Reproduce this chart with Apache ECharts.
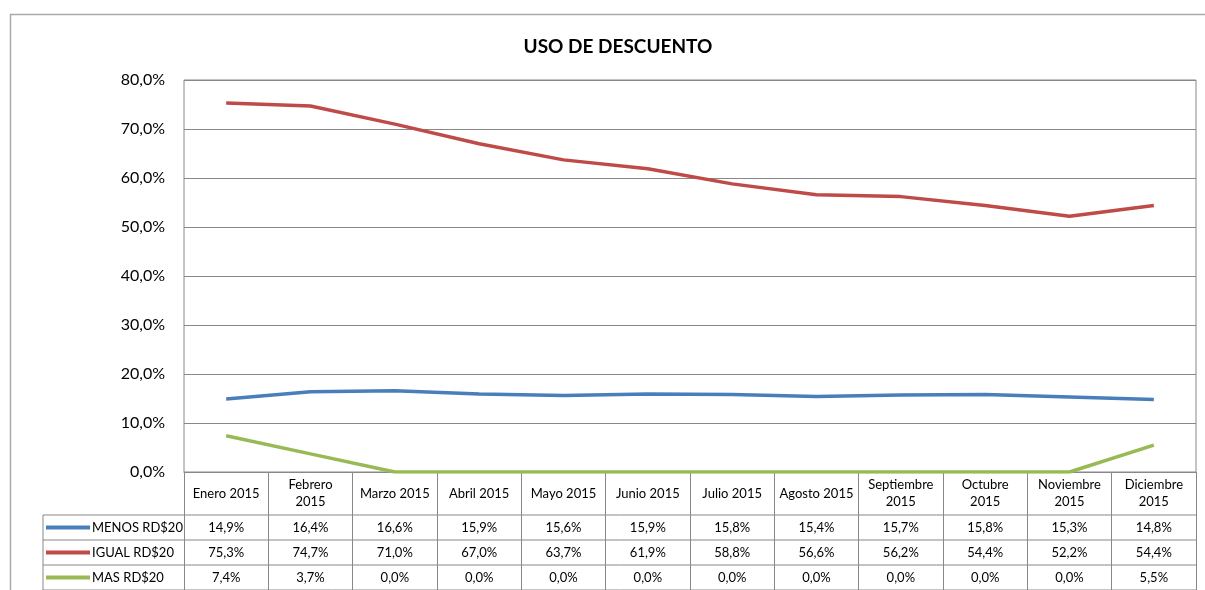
<!DOCTYPE html>
<html>
<head>
<meta charset="utf-8">
<script src="https://cdn.jsdelivr.net/npm/echarts@6/dist/echarts.min.js"></script>
<style>
  html, body { margin: 0; padding: 0; background: #fff; }
  #main { width: 1205px; height: 590px; }
</style>
</head>
<body>
<div id="main"></div>
<script>
const chart = echarts.init(document.querySelector('#main'))

const MONTHS = [
  'Enero 2015', 'Febrero\n2015', 'Marzo 2015', 'Abril 2015', 'Mayo 2015', 'Junio 2015',
  'Julio 2015', 'Agosto 2015', 'Septiembre\n2015', 'Octubre\n2015', 'Noviembre\n2015', 'Diciembre\n2015'
]
const MENOS = [14.9, 16.4, 16.6, 15.9, 15.6, 15.9, 15.8, 15.4, 15.7, 15.8, 15.3, 14.8]
const IGUAL = [75.3, 74.7, 71.0, 67.0, 63.7, 61.9, 58.8, 56.6, 56.2, 54.4, 52.2, 54.4]
const MAS = [7.4, 3.7, 0.0, 0.0, 0.0, 0.0, 0.0, 0.0, 0.0, 0.0, 0.0, 5.5]

const NAMES = ['MENOS RD$20', 'IGUAL RD$20', 'MAS RD$20']
const COLORS = ['#4a7ebb', '#be4b48', '#98b954']
const ROWS = [MENOS, IGUAL, MAS]

const FONT = 'Lato, "Open Sans", sans-serif'
const GRID_LEFT = 184
const GRID_RIGHT = 1196
const GRID_TOP = 80
const GRID_BOTTOM = 472
const TABLE_LEFT = 43
const ROW_H = 25
const HEADER_H = 43

function pct (v) {
  return v.toFixed(1).replace('.', ',') + '%'
}

// one hidden category axis per table row, used only to place the cell texts
let rowAxes = ROWS.map((row, i) => ({
  type: 'category',
  gridIndex: 0,
  position: 'bottom',
  data: row.map(pct),
  axisLine: { show: false },
  axisTick: { show: false },
  axisLabel: {
    interval: 0,
    margin: HEADER_H + ROW_H * i + ROW_H / 2,
    verticalAlign: 'middle',
    fontFamily: FONT,
    fontSize: 13,
    color: '#000'
  }
}))

// one legend per table row so each key sits in its own cell
let legends = NAMES.map((name, i) => ({
  orient: 'horizontal',
  left: 46,
  top: GRID_BOTTOM + HEADER_H + ROW_H * i + 4,
  padding: 0,
  itemWidth: 44,
  itemHeight: 4,
  icon: 'rect',
  selectedMode: false,
  data: [name],
  textStyle: { fontFamily: FONT, fontSize: 13, color: '#000', padding: [0, 0, 0, -3], lineHeight: 17 }
}))

// table grid lines (structure only)
let tableLines = []
for (let i = 0; i <= ROWS.length; i++) {
  let y = GRID_BOTTOM + HEADER_H + ROW_H * i
  tableLines.push({
    type: 'line',
    shape: { x1: TABLE_LEFT, y1: y, x2: GRID_RIGHT, y2: y },
    style: { stroke: '#888', lineWidth: 1 }
  })
}
tableLines.push({
  type: 'line',
  shape: { x1: TABLE_LEFT, y1: GRID_BOTTOM + HEADER_H, x2: TABLE_LEFT, y2: 590 },
  style: { stroke: '#888', lineWidth: 1 }
})
// outer chart border
tableLines.push({
  type: 'polyline',
  shape: { points: [[10.5, 600], [10.5, 14.5], [1210, 14.5]] },
  style: { stroke: '#aaa', lineWidth: 1.5, fill: null }
})

let chartOption = {
  animation: false,
  title: {
    text: 'USO DE DESCUENTO',
    left: 613,
    textAlign: 'center',
    top: 32,
    textStyle: { fontFamily: FONT, fontSize: 19, fontWeight: 'bold', color: '#000' }
  },
  legend: legends,
  grid: {
    left: GRID_LEFT,
    right: 1205 - GRID_RIGHT,
    top: GRID_TOP,
    bottom: 590 - GRID_BOTTOM,
    show: true,
    borderColor: '#888',
    borderWidth: 1
  },
  xAxis: [
    {
      type: 'category',
      data: MONTHS,
      boundaryGap: true,
      axisLine: { lineStyle: { color: '#888', width: 1 } },
      axisTick: { show: true, length: 590 - GRID_BOTTOM, lineStyle: { color: '#888' } },
      axisLabel: {
        interval: 0,
        margin: HEADER_H / 2,
        verticalAlign: 'middle',
        fontFamily: FONT,
        fontSize: 13,
        lineHeight: 17,
        color: '#000'
      }
    }
  ].concat(rowAxes),
  yAxis: {
    type: 'value',
    min: 0,
    max: 80,
    interval: 10,
    axisLine: { show: false },
    axisTick: { show: false },
    axisLabel: {
      margin: 19,
      fontFamily: FONT,
      fontSize: 16,
      color: '#000',
      formatter: v => pct(v)
    },
    splitLine: { lineStyle: { color: '#888', width: 1 } }
  },
  series: ROWS.map((row, i) => ({
    name: NAMES[i],
    type: 'line',
    data: row,
    symbol: 'none',
    color: COLORS[i],
    lineStyle: { width: 3.5, color: COLORS[i] }
  })),
  graphic: tableLines
}

chart.setOption(chartOption)
</script>
</body>
</html>
